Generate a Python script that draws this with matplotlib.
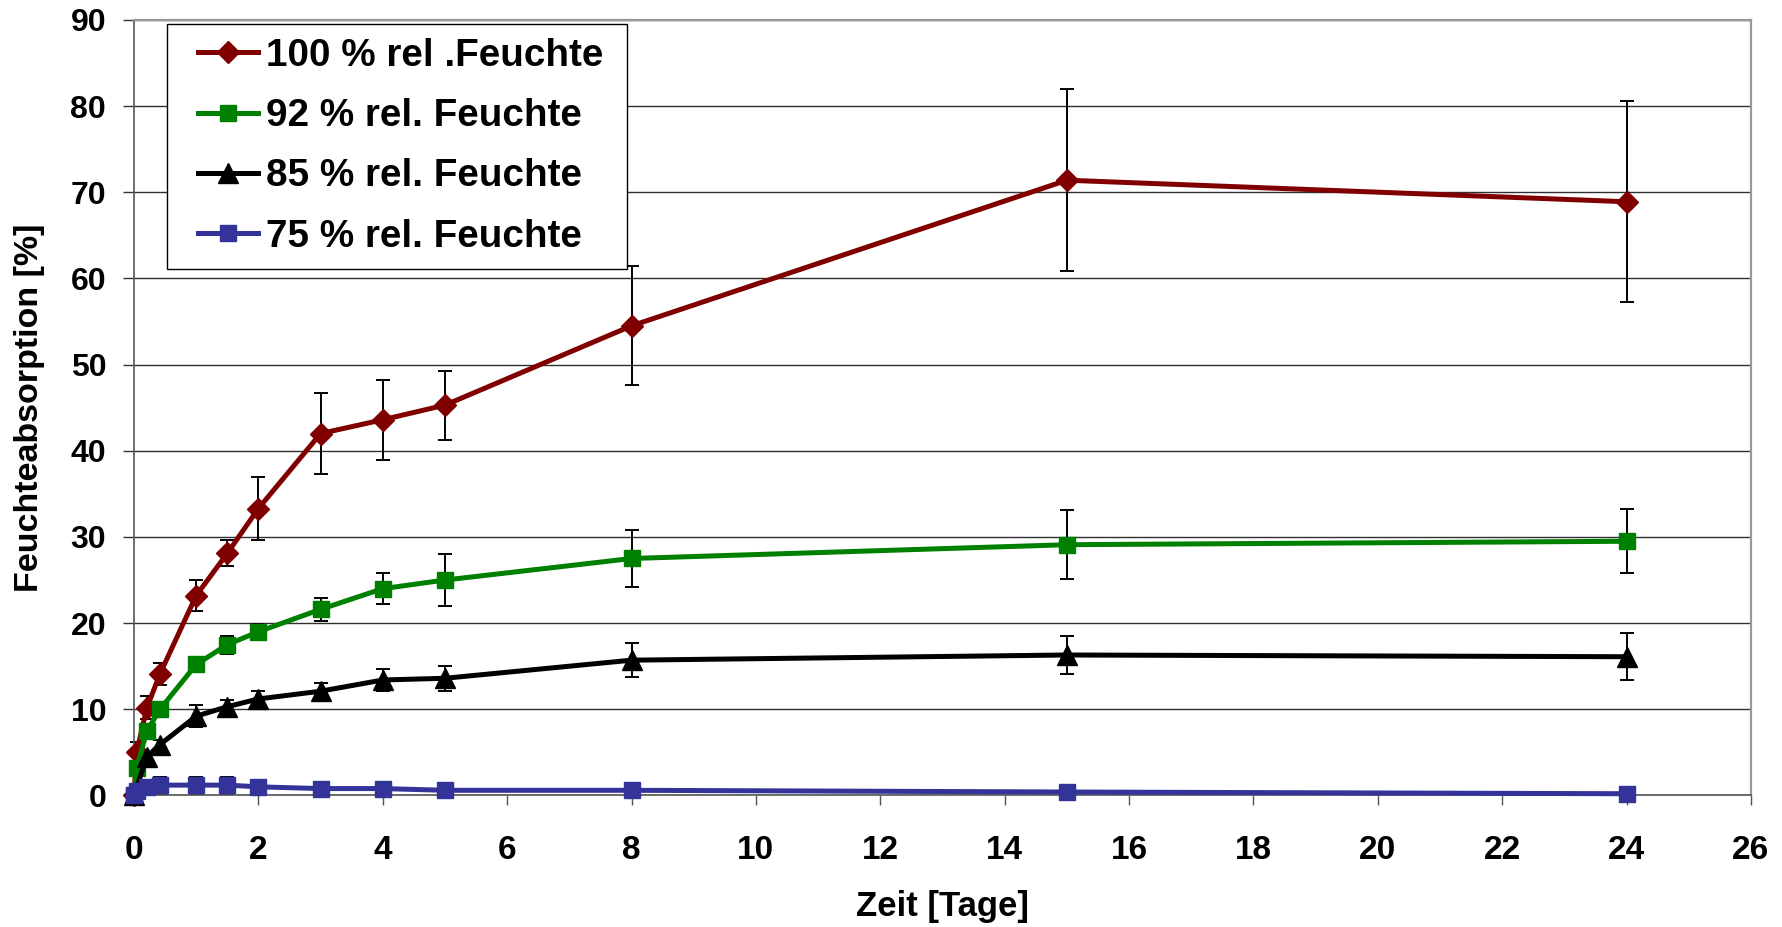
import matplotlib
matplotlib.use("Agg")
import matplotlib.pyplot as plt
from matplotlib.legend_handler import HandlerLine2D

plt.rcParams['font.family'] = ['Liberation Sans', 'DejaVu Sans']
plt.rcParams['font.weight'] = 'bold'

# time points [days]
t = [0, 0.042, 0.208, 0.417, 1, 1.5, 2, 3, 4, 5, 8, 15, 24]
t_85 = [0, 0.208, 0.417, 1, 1.5, 2, 3, 4, 5, 8, 15, 24]

# moisture uptake [%] and standard deviation
rh100 = [0, 5.0, 10.2, 14.1, 23.2, 28.1, 33.3, 42.0, 43.6, 45.3, 54.5, 71.4, 68.9]
rh100_err = [0, 1.2, 1.3, 1.3, 1.85, 1.5, 3.6, 4.7, 4.65, 4.0, 6.9, 10.55, 11.65]

rh92 = [0, 3.2, 7.5, 10.0, 15.2, 17.5, 19.0, 21.6, 24.0, 25.0, 27.5, 29.1, 29.5]
rh92_err = [0, 0.5, 0.8, 0.5, 0.5, 1.05, 0.9, 1.3, 1.8, 3.0, 3.3, 4.0, 3.7]

rh85 = [0, 4.5, 5.9, 9.2, 10.3, 11.2, 12.1, 13.4, 13.6, 15.7, 16.3, 16.1]
rh85_err = [0, 0.5, 0.5, 1.25, 0.8, 0.9, 1.0, 1.25, 1.45, 2.0, 2.25, 2.7]

rh75 = [0, 0.5, 1.0, 1.2, 1.2, 1.2, 1.0, 0.8, 0.8, 0.6, 0.6, 0.4, 0.2]
rh75_err = [0, 0.2, 0.3, 1.0, 1.0, 1.0, 0.3, 0.3, 0.3, 0.3, 0.3, 0.3, 0.3]

labels = ['100 % rel .Feuchte', '92 % rel. Feuchte', '85 % rel. Feuchte', '75 % rel. Feuchte']

fig = plt.figure(figsize=(17.82, 9.27), dpi=100)
ax = fig.add_axes([0.0752, 0.1419, 0.9074, 0.8366])

series = [
    (t, rh100, rh100_err, '#800000', 'D', 11),
    (t, rh92, rh92_err, '#008000', 's', 11.5),
    (t_85, rh85, rh85_err, '#000000', '^', 14),
    (t, rh75, rh75_err, '#333399', 's', 11.5),
]

handles = []
for (x, y, e, col, mk, ms), lab in zip(series, labels):
    ax.errorbar(x, y, yerr=e, fmt='none', ecolor='black', elinewidth=1.4,
                capsize=4.7, capthick=1.4, zorder=2, clip_on=False)
    h, = ax.plot(x, y, color=col, marker=mk, markersize=ms, linewidth=3.6,
                 label=lab, zorder=3, clip_on=False)
    handles.append(h)

ax.set_xlim(0, 26)
ax.set_ylim(0, 90)
ax.set_xticks(range(0, 27, 2))
ax.set_yticks(range(0, 91, 10))
ax.yaxis.grid(True, color='#303030', linewidth=1.0)
ax.set_axisbelow(True)

for s in ['top', 'right']:
    ax.spines[s].set_color('#999999')
    ax.spines[s].set_linewidth(1.6)
for s in ['left', 'bottom']:
    ax.spines[s].set_color('#555555')
    ax.spines[s].set_linewidth(1.2)

ax.tick_params(axis='x', direction='out', length=7.2, width=1.0, color='#555555',
               labelsize=24, pad=21)
ax.tick_params(axis='y', direction='out', length=8, width=1.0, color='#333333',
               labelsize=23, pad=12)
for lbl in ax.get_xticklabels() + ax.get_yticklabels():
    lbl.set_fontweight('bold')

ax.set_xlabel('Zeit [Tage]', fontsize=25, fontweight='bold')
ax.set_ylabel('Feuchteabsorption [%]', fontsize=24.5, fontweight='bold')
ax.xaxis.set_label_coords(0.5, -0.122)
ax.yaxis.set_label_coords(-0.055, 0.5)

leg = ax.legend(handles=handles, loc='upper left',
                bbox_to_anchor=(0.0202, 0.0, 0.2847, 0.995), mode='expand',
                borderaxespad=0, fontsize=27.8, frameon=True, fancybox=False,
                edgecolor='black', framealpha=1, borderpad=0.36, labelspacing=0.63,
                handlelength=2.0, handletextpad=0.2, numpoints=1,
                handler_map={h: HandlerLine2D(xpad=0.44) for h in handles})
leg.get_frame().set_linewidth(1.0)
leg.set_zorder(5)
for txt in leg.get_texts():
    txt.set_fontweight('bold')

fig.savefig('out.png', dpi=100)
